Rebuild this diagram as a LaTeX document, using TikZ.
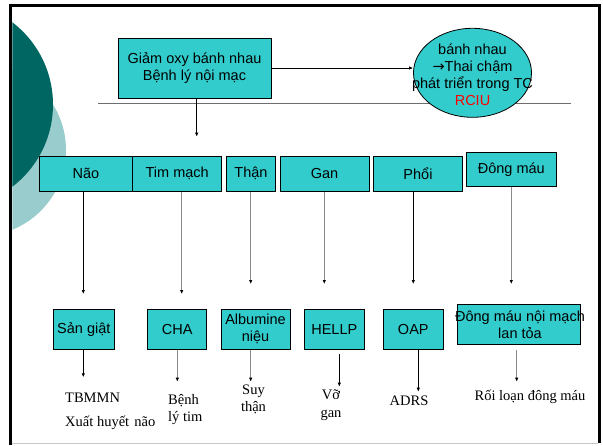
\documentclass[tikz,border=0pt]{standalone}
\usepackage{fontspec}
\setmainfont{Liberation Sans}
\newfontfamily\timesf{Liberation Serif}
\newfontfamily\symf{DejaVu Sans}
\usetikzlibrary{arrows.meta,shapes.geometric}
\definecolor{boxfill}{HTML}{33CCCC}
\definecolor{darkteal}{HTML}{006661}
\definecolor{lightteal}{HTML}{99CCCC}
\definecolor{rulegray}{HTML}{6E6E6E}
\definecolor{arrgray}{HTML}{8A8A8A}
\begin{document}
\begin{tikzpicture}[x=1pt,y=-1pt,
  box/.style={draw=black, line width=0.9pt, fill=boxfill, rectangle, inner sep=0pt, align=center, font=\fontsize{14.5}{17}\selectfont},
  sanstext/.style={inner sep=0pt, align=center, font=\fontsize{14.5}{17}\selectfont},
  blk/.style={draw=black, line width=0.8pt, -{Latex[length=4pt,width=3.5pt]}},
  gry/.style={draw=arrgray, line width=1.1pt, -{Latex[length=4pt,width=3.5pt,color=black]}},
  lbl/.style={font=\timesf\fontsize{14.5}{17.5}\selectfont, inner sep=0pt, align=center}]
\useasboundingbox (0,0) rectangle (603,445);
% background decoration circles
\begin{scope}
  \clip (12.3,7) rectangle (597.7,443);
  \fill[lightteal] (-20,150) circle[radius=86pt];
  \fill[darkteal] (-50.5,104.5) circle[radius=103.5pt];
\end{scope}
% frame
\fill[black] (9,4) rectangle (601,7);
\fill[black] (9,4) rectangle (12.3,445);
\fill[black] (597.7,4) rectangle (601,443);
\draw[gray!45, line width=1pt] (12.3,443) -- (597.7,443);

% horizontal rule
\coordinate (rl) at (98,103.3);
\coordinate (rr) at (570.7,103.3);
\draw[rulegray, line width=1.3pt] (rl) -- (rr);

% top box and ellipse
\node[box, minimum width=153pt, minimum height=60pt] (top) at (194.5,68) {Giảm oxy bánh nhau\\Bệnh lý nội mạc};
\node[ellipse, draw=black, line width=0.8pt, fill=boxfill, minimum width=118pt, minimum height=89pt, inner sep=0pt] (fetus) at (472.5,72.8) {};
\node[sanstext] (fetustext) at (fetus.center) [yshift=-1.8pt] {bánh nhau\\{\symf →}Thai chậm\\phát triển trong TC\\\textcolor{red}{RCIU}};

\draw[blk] (top.east) -- (top.east -| fetus.west);
\coordinate (dn) at (196.7,136.7);
\draw[blk] (dn |- top.south) -- (dn);

% middle row
\node[box, minimum width=93.4pt, minimum height=35.7pt] (nao) at (86,173.8) {Não};
\node[box, minimum width=89pt, minimum height=35.7pt] (tim) at (177.2,173.8) {Tim mạch};
\node[box, minimum width=49.4pt, minimum height=35.7pt] (than) at (251,173.8) {Thận};
\node[box, minimum width=89pt, minimum height=35.7pt] (gan) at (324.5,173.8) {Gan};
\node[box, minimum width=89.4pt, minimum height=35pt] (phoi) at (418,174.2) {Phổi};
\node[box, minimum width=89.3pt, minimum height=34.7pt] (dong) at (511.3,169.3) {Đông máu};

\coordinate (enao) at (83.3,294);
\coordinate (etim) at (181.7,294);
\coordinate (ethan) at (250.7,284);
\coordinate (egan) at (324.3,284);
\coordinate (ephoi) at (413.3,284);
\coordinate (edong) at (511.3,284);
\draw[blk] (enao |- nao.south) -- (enao);
\draw[gry] (etim |- tim.south) -- (etim);
\draw[gry] (ethan |- than.south) -- (ethan);
\draw[gry] (egan |- gan.south) -- (egan);
\draw[blk] (ephoi |- phoi.south) -- (ephoi);
\draw[gry] (edong |- dong.south) -- (edong);

% bottom boxes
\node[box, minimum width=61pt, minimum height=40pt] (sangiat) at (83.8,329.3) {Sản giật};
\node[box, minimum width=59pt, minimum height=40pt] (cha) at (177.2,329.3) {CHA};
\node[box, minimum width=69pt, minimum height=40pt] (alb) at (255.5,329.3) {Albumine\\niệu};
\node[box, minimum width=60pt, minimum height=40pt] (hellp) at (334.3,329.3) {HELLP};
\node[box, minimum width=60pt, minimum height=40pt] (oap) at (413.3,329.3) {OAP};
\node[box, minimum width=122.7pt, minimum height=40pt] (dic) at (518.7,324.3) {};
\node[sanstext] (dictext) at (520,325) {Đông máu nội mạch\\lan tỏa};

\coordinate (fsg) at (83.3,377.3);
\coordinate (fcha) at (177.3,381.7);
\coordinate (falb) at (250.7,381.7);
\coordinate (fhellp) at (339.3,386.7);
\coordinate (foap) at (418.3,391.7);
\coordinate (fdic) at (516.7,381.7);
\draw[blk] (fsg |- sangiat.south) -- (fsg);
\draw[gry] (fcha |- cha.south) -- (fcha);
\draw[gry] (falb |- alb.south) -- (falb);
\draw[blk, shorten <=4pt] (fhellp |- hellp.south) -- (fhellp);
\draw[blk] (foap |- oap.south) -- (foap);
\draw[gry, shorten <=5pt] (fdic |- dic.south) -- (fdic);

% bottom texts
\node[lbl, anchor=west] (t1) at (65,397.3) {TBMMN};
\node[lbl, anchor=west] (t2) at (65,423.3) {Xuất huyết\hspace{1.5pt} não};
\node[lbl, anchor=west, align=left] (t3) at (168,409.5) {Bệnh\\lý tim};
\node[lbl] (t4) at (253.5,399.2) {Suy\\thận};
\node[lbl] (t5) at (331,405.3) {Vỡ\\gan};
\node[lbl] (t6) at (409,400.7) {ADRS};
\node[lbl] (t7) at (530,396.7) {Rối loạn đông máu};
\end{tikzpicture}
\end{document}
